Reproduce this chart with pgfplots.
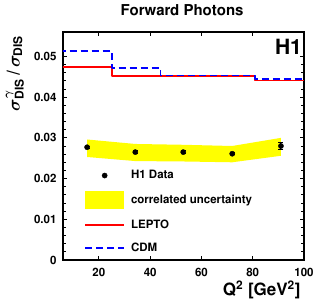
\documentclass[border=0pt]{standalone}
\usepackage[T1]{fontenc}
\usepackage{helvet}
\renewcommand{\familydefault}{\sfdefault}
\usepackage{pgfplots}
\pgfplotsset{compat=1.18}
\definecolor{hred}{RGB}{255,0,0}
\definecolor{hblue}{RGB}{0,0,255}
\definecolor{hyel}{RGB}{255,255,0}
\newcommand{\sm}{\fontsize{12}{12}\selectfont\bfseries}
\begin{document}
\begin{tikzpicture}[x=1pt,y=1pt]
\path[use as bounding box] (-63,-46) rectangle (253,260);
\begin{axis}[
  at={(0,0)}, anchor=south west,
  scale only axis, width=241pt, height=228pt,
  xmin=6, xmax=100, ymin=0, ymax=0.056,
  axis line style={line width=1.5pt},
  tick align=inside,
  major tick length=4pt, minor tick length=2.5pt,
  tick style={line width=0.8pt, black},
  xtick={20,40,60,80,100}, xticklabels={20,40,60,80,100},
  ytick={0,0.01,0.02,0.03,0.04,0.05}, yticklabels={0,0.01,0.02,0.03,0.04,0.05},
  minor y tick num=4,
  scaled y ticks=false,
  tick label style={font=\fontsize{11.5}{13}\selectfont\bfseries},
  xticklabel style={yshift=-5pt},
  yticklabel style={xshift=-3pt},
  title={Forward Photons},
  title style={at={(axis description cs:0.494,1.07)}, anchor=center, font=\fontsize{15}{17}\selectfont\bfseries},
  xlabel={Q\textsuperscript{2} [GeV\textsuperscript{2}]},
  x label style={at={(axis description cs:1.0,-0.13)}, anchor=east, font=\fontsize{17}{19}\selectfont\bfseries},
  ylabel={$\sigma^{\mbox{\sm$\gamma$}}_{\mbox{\sm DIS}}$\,/\,$\sigma_{\mbox{\sm DIS}}$},
  y label style={at={(axis description cs:-0.2,1.0)}, anchor=east, font=\fontsize{18}{20}\selectfont\bfseries\boldmath},
  clip=true,
  legend cell align=left,
  legend style={at={(axis description cs:0.075,0.41)}, anchor=north west, draw=none, fill=none,
     font=\fontsize{11.5}{13}\selectfont\bfseries, row sep=9pt,
     /tikz/every odd column/.append style={column sep=4pt}},
]
% correlated uncertainty band
\addplot[fill=hyel, draw=none, forget plot] coordinates {
 (15.4,0.0296) (34.2,0.0285) (52.9,0.0283) (72.0,0.0280) (91.0,0.0300)
 (91.0,0.0256) (72.0,0.0240) (52.9,0.0242) (34.2,0.0243) (15.4,0.0253) (15.4,0.0296)
};
% LEPTO
\addplot[draw=hred, line width=1.8pt, line join=round, forget plot] coordinates {
 (0,0.0475) (25,0.0475) (25,0.0452) (81,0.0452) (81,0.0441) (100,0.0441)
};
% CDM
\addplot[draw=hblue, line width=1.8pt, line join=round, dash pattern=on 7pt off 4pt, forget plot] coordinates {
 (0,0.0513) (25,0.0513) (25,0.0471) (44,0.0471) (44,0.0453) (81,0.0453) (81,0.0445) (100,0.0445)
};
% data
\addplot[only marks, mark=*, mark size=2.6pt, color=black, forget plot,
  error bars/.cd, y dir=both, y explicit, error bar style={line width=1pt}, error mark options={rotate=90, mark size=2.5pt, line width=1pt}]
  coordinates {
 (15.4,0.0277) +- (0,0.0003)
 (34.2,0.0265) +- (0,0.0003)
 (52.9,0.0265) +- (0,0.0003)
 (72.0,0.0261) +- (0,0.0003)
 (91.0,0.0280) +- (0,0.0008)
};
% legend entries
\addlegendimage{only marks, mark=*, mark size=2.6pt, color=black, legend image code/.code={\fill (19.5pt,0pt) circle (2.6pt);}}
\addlegendentry{H1 Data}
\addlegendimage{draw=none, fill=hyel, legend image code/.code={\fill (0pt,-9pt) rectangle (39pt,9pt);}}
\addlegendentry{correlated uncertainty}
\addlegendimage{color=hred, line width=1.8pt, legend image code/.code={\draw (0pt,0pt) -- (39pt,0pt);}}
\addlegendentry{LEPTO}
\addlegendimage{color=hblue, line width=1.8pt, dash pattern=on 7pt off 4pt, legend image code/.code={\draw (0pt,0pt) -- (39pt,0pt);}}
\addlegendentry{CDM}
\node[anchor=north east, inner sep=0pt, font=\fontsize{21}{23}\selectfont\bfseries] at (rel axis cs:0.992,0.969) {H1};
\end{axis}
\end{tikzpicture}
\end{document}
